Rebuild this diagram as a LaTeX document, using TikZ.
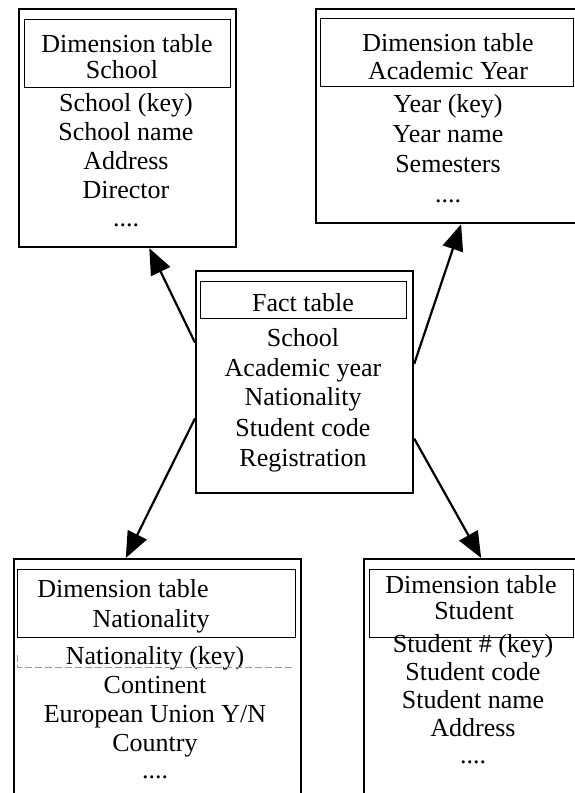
\documentclass[tikz,border=0pt]{standalone}
\usepackage{fontspec}
\setmainfont{Liberation Serif}
\usetikzlibrary{arrows.meta,calc}
\begin{document}
\begin{tikzpicture}[x=1pt,y=-1pt,
  tablebox/.style={draw=black,line width=2.2pt,inner sep=0pt,anchor=north west},
  headbox/.style={draw=black,line width=1.3pt,inner sep=0pt,anchor=north west},
  row/.style={font=\fontsize{26}{30}\selectfont,inner sep=0pt,anchor=base},
  link/.style={line width=2.2pt,-{Triangle[length=26pt,width=21pt]}},
  trace/.style={draw=black!40,line width=0.8pt,dash pattern=on 7pt off 3pt}]
\useasboundingbox (0,0) rectangle (575,793);

% outer table frames
\node[tablebox,minimum width=217pt,minimum height=238pt] (school) at (18,8) {};
\node[tablebox,minimum width=263pt,minimum height=214pt] (acad) at (315,8) {};
\node[tablebox,minimum width=217pt,minimum height=222pt] (fact) at (195,270) {};
\node[tablebox,minimum width=287pt,minimum height=250pt] (nat) at (13,558) {};
\node[tablebox,minimum width=215pt,minimum height=250pt] (stud) at (363,558) {};

% title cells
\node[headbox,minimum width=206pt,minimum height=68pt] (schoolhead) at (24,19) {};
\node[headbox,minimum width=253pt,minimum height=68pt] (acadhead) at (320,18) {};
\node[headbox,minimum width=206pt,minimum height=37pt] (facthead) at (200,281) {};
\node[headbox,minimum width=278pt,minimum height=68pt] (nathead) at (17,569) {};
\node[headbox,minimum width=204pt,minimum height=68pt] (studhead) at (369,569) {};

% School
\node[row] (s1) at (127,52) {Dimension table};
\node[row] (s2) at (122,78) {School};
\node[row] (s3) at (126,111) {School (key)};
\node[row] (s4) at (126,140) {School name};
\node[row] (s5) at (126,169) {Address};
\node[row] (s6) at (126,198) {Director};
\node[row] (s7) at (126,226) {....};

% Academic year
\node[row] (a1) at (448,51) {Dimension table};
\node[row] (a2) at (448,79) {Academic Year};
\node[row] (a3) at (448,112) {Year (key)};
\node[row] (a4) at (448,142) {Year name};
\node[row] (a5) at (448,172) {Semesters};
\node[row] (a6) at (448,202) {....};

% Fact table
\node[row] (f1) at (303,311) {Fact table};
\node[row] (f2) at (303,346) {School};
\node[row] (f3) at (303,376) {Academic year};
\node[row] (f4) at (303,405) {Nationality};
\node[row] (f5) at (303,436) {Student code};
\node[row] (f6) at (303,466) {Registration};

% Nationality
\node[row] (n1) at (123,597) {Dimension table};
\node[row] (n2) at (151,627) {Nationality};
\node[row] (n3) at (155,664) {Nationality (key)};
\node[row] (n4) at (155,693) {Continent};
\node[row] (n5) at (155,722) {European Union Y/N};
\node[row] (n6) at (155,751) {Country};
\node[row] (n7) at (155,778) {....};

% Student
\node[row] (t1) at (471,593) {Dimension table};
\node[row] (t2) at (474,619) {Student};
\node[row] (t3) at (473,652) {Student \# (key)};
\node[row] (t4) at (473,680) {Student code};
\node[row] (t5) at (473,708) {Student name};
\node[row] (t6) at (473,736) {Address};
\node[row] (t7) at (473,763) {....};

% faint rule left under the key row
\draw[trace] (17,655) -- (17,667) -- (295,667);

% links from the fact table to the dimension tables
\draw[link] ($(fact.north west)!0.324!(fact.south west)$) -- ($(school.south west)!0.599!(school.south east)$);
\draw[link] ($(fact.north east)!0.419!(fact.south east)$) -- ($(acad.south west)!0.551!(acad.south east)$);
\draw[link] ($(fact.north west)!0.662!(fact.south west)$) -- ($(nat.north west)!0.390!(nat.north east)$);
\draw[link] ($(fact.north east)!0.752!(fact.south east)$) -- ($(stud.north west)!0.544!(stud.north east)$);
\end{tikzpicture}
\end{document}
